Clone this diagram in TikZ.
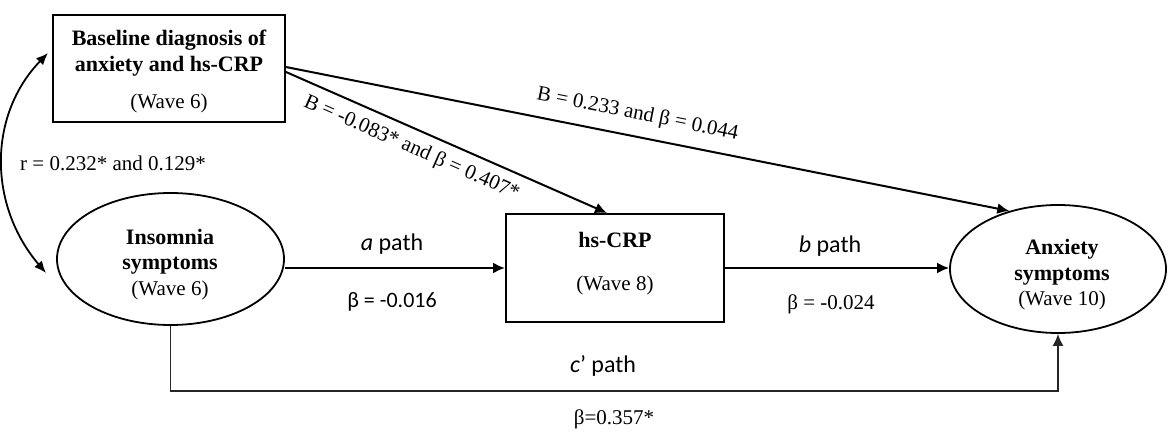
\documentclass[tikz,border=0pt]{standalone}
\usepackage{fontspec}
\setmainfont{Liberation Serif}
\newfontfamily\calfont{Carlito}
\usetikzlibrary{arrows.meta,shapes.geometric}
\begin{document}
\begin{tikzpicture}[x=1pt,y=-1pt,
  boxshape/.style={draw, line width=2pt, inner sep=0pt},
  oval/.style={ellipse, draw, line width=1.8pt, inner sep=0pt},
  arr/.style={line width=2pt, -{Latex[length=12pt,width=11pt]}},
  cpath/.style={line width=1.4pt, black!85, -{Latex[length=12pt,width=11pt]}},
  tx/.style={font=\fontsize{21}{26}\selectfont, anchor=base, inner sep=0pt},
  txb/.style={font=\fontsize{22}{26}\selectfont\bfseries, anchor=base, inner sep=0pt},
  cal/.style={font=\fontsize{24}{28}\selectfont\calfont, anchor=base, inner sep=0pt},
  calsm/.style={font=\fontsize{22}{26}\selectfont\calfont, anchor=base, inner sep=0pt},
  lbl/.style={font=\fontsize{21}{26}\selectfont, inner sep=0pt, sloped}
]
\useasboundingbox (0,0) rectangle (1168,433);

% shapes
\node[boxshape, minimum width=232pt, minimum height=107pt] (base) at (169,68.5) {};
\node[boxshape, minimum width=218pt, minimum height=108pt] (crp) at (615,268) {};
\node[oval, minimum width=227pt, minimum height=132pt] (ins) at (170.5,259) {};
\node[oval, minimum width=216pt, minimum height=128pt] (anx) at (1058,269) {};

% texts inside shapes
\node[txb] (baset1) at (169,46) {Baseline diagnosis of};
\node[txb] (baset2) at (169,72) {anxiety and hs-CRP};
\node[tx] (baset3) at (169,109) {(Wave 6)};
\node[txb] (inst1) at (170,244) {Insomnia};
\node[txb] (inst2) at (170,269) {symptoms};
\node[tx] (inst3) at (170,295) {(Wave 6)};
\node[txb] (crpt1) at (615,247) {hs-CRP};
\node[tx] (crpt2) at (615,290) {(Wave 8)};
\node[txb] (anxt1) at (1062,254) {Anxiety};
\node[txb] (anxt2) at (1062,280) {symptoms};
\node[tx] (anxt3) at (1062,305) {(Wave 10)};

% correlation arrow
\coordinate (rtop) at (48,53);
\coordinate (rbot) at (46,273);
\draw[line width=1.8pt, {Latex[length=12pt,width=10pt]}-{Latex[length=12pt,width=10pt]}]
  (rtop) .. controls (-12,115) and (-12,205) .. (rbot);
\node[tx] (rlab) at (113,171) {r = 0.232* and 0.129*};

% a path
\draw[arr] (ins.east |- crp.west) -- (crp.west);
\node[cal] (alab) at (392,250) {\textit{a} path};
\node[calsm] (abeta) at (392,307) {β = -0.016};

% b path
\draw[arr] (crp.east) -- (crp.east -| anx.west);
\node[cal] (blab) at (830,252) {\textit{b} path};
\node[tx] (bbeta) at (831,309) {β = -0.024};

% baseline paths
\draw[arr] ([yshift=1.5pt]base.east) -- (anx.130)
  node[lbl, pos=0.48, above=11.5pt] (ulab) {B = 0.233 and β = 0.044};
\draw[arr] ([yshift=-3.5pt]base.east) -- ([xshift=-8pt]crp.north)
  node[lbl, pos=0.415, below=8.6pt] (llab) {B = -0.083* and β = 0.407*};

% c' path
\draw[cpath] (ins.south) -- (ins.south |- 0,391) -| (anx.south);
\node[cal] (clab) at (603,372) {\textit{c}’ path};
\node[tx] (cbeta) at (614,424) {β=0.357*};
\end{tikzpicture}
\end{document}
